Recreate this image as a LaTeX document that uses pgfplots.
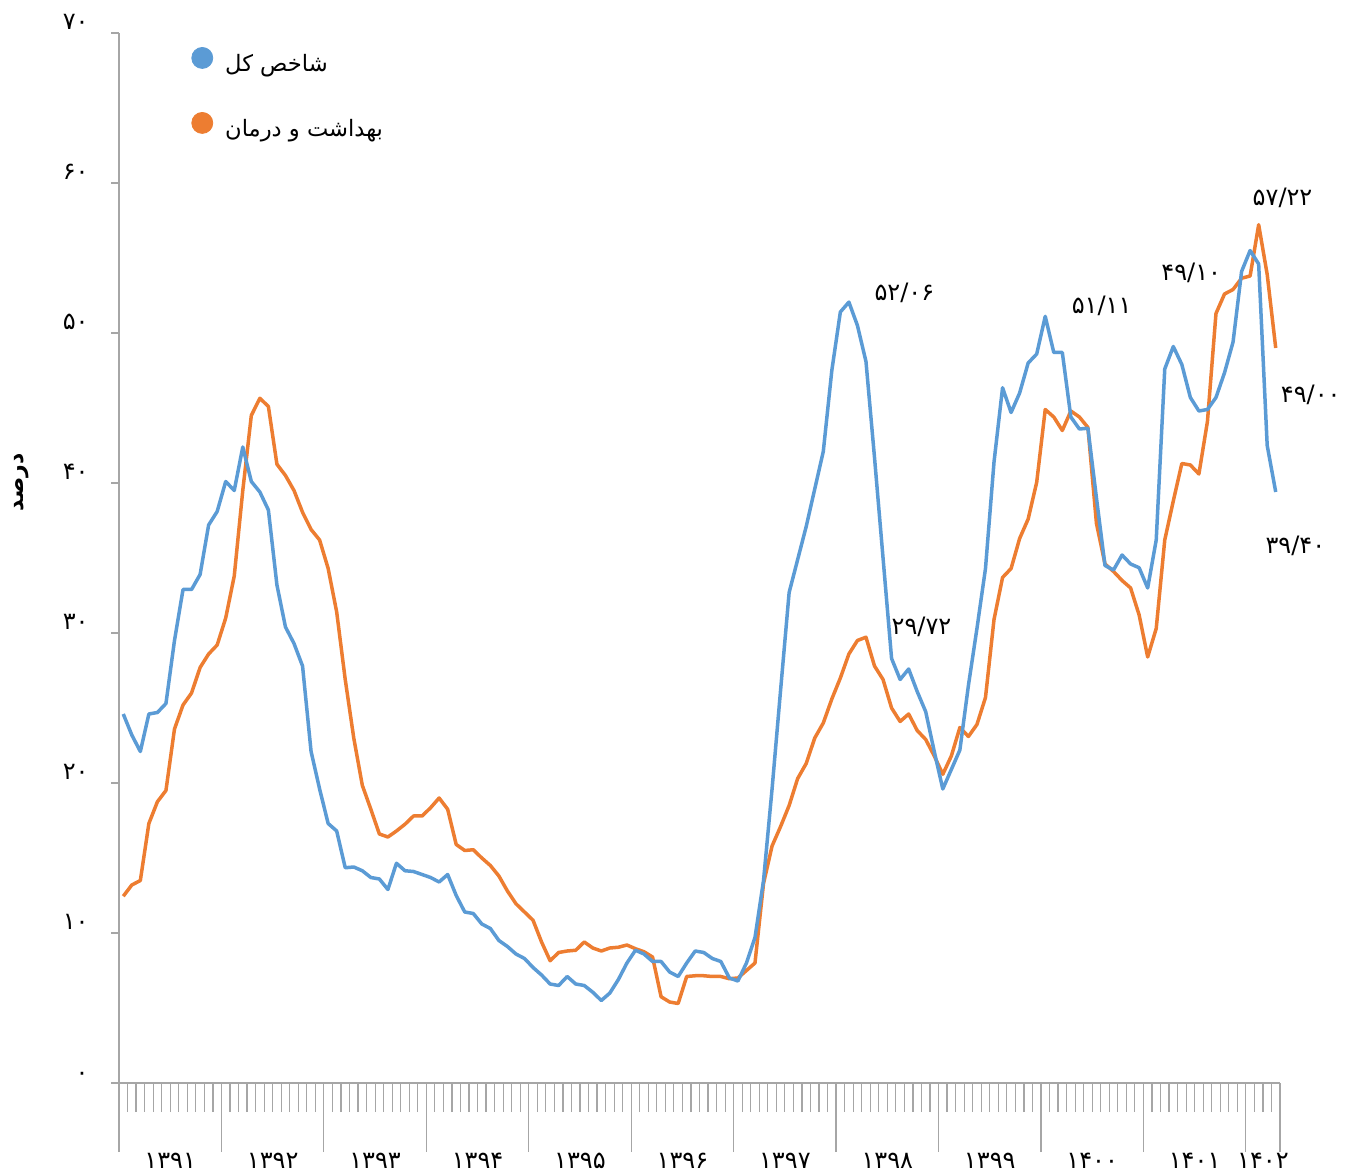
\documentclass[border=0pt]{standalone}
\usepackage{fontspec}
\usepackage{pgfplots}
\usepackage{pgfplotstable}
\pgfplotsset{compat=1.18}
\TeXXeTstate=1
\newfontfamily\arabicfont[Script=Arabic]{DejaVu Sans}
\definecolor{sblue}{HTML}{5B9BD5}
\definecolor{sorange}{HTML}{ED7D31}
\definecolor{axgray}{HTML}{A6A6A6}
\pgfplotstableread{
kol beh
24.6 12.45
23.2 13.2
22.1 13.5
24.6 17.3
24.7 18.75
25.3 19.5
29.5 23.6
32.9 25.2
32.9 26.0
33.9 27.7
37.2 28.6
38.1 29.2
40.1 31.0
39.5 33.8
42.4 39.5
40.1 44.5
39.4 45.65
38.2 45.1
33.2 41.25
30.4 40.5
29.3 39.5
27.8 38.05
22.1 36.9
19.6 36.2
17.3 34.3
16.8 31.4
14.35 26.9
14.4 23.0
14.15 19.85
13.7 18.25
13.6 16.6
12.9 16.4
14.65 16.8
14.15 17.25
14.1 17.8
13.9 17.8
13.7 18.35
13.4 19.0
13.9 18.25
12.5 15.9
11.4 15.5
11.3 15.55
10.6 15.0
10.3 14.5
9.5 13.8
9.1 12.8
8.6 11.95
8.3 11.4
7.7 10.85
7.2 9.4
6.6 8.15
6.5 8.7
7.1 8.8
6.6 8.85
6.5 9.4
6.05 9.0
5.5 8.8
6.0 9.0
6.9 9.05
8.0 9.2
8.85 8.95
8.6 8.75
8.1 8.4
8.1 5.75
7.4 5.4
7.1 5.3
8.0 7.1
8.8 7.15
8.7 7.15
8.3 7.1
8.1 7.1
7.0 6.95
6.8 7.0
8.0 7.5
9.7 8.0
13.5 13.3
19.6 15.8
26.2 17.1
32.7 18.5
34.9 20.3
37.1 21.3
39.6 23.0
42.1 24.0
47.5 25.6
51.4 27.0
52.06 28.6
50.5 29.5
48.1 29.72
41.7 27.8
35.0 26.9
28.3 25.0
26.9 24.1
27.6 24.6
26.1 23.5
24.75 22.9
22.1 21.8
19.6 20.58
20.9 21.8
22.2 23.7
26.5 23.1
30.3 23.9
34.3 25.7
41.4 30.9
46.35 33.7
44.7 34.3
46.0 36.3
48.0 37.6
48.6 40.05
51.11 44.9
48.7 44.4
48.7 43.5
44.4 44.8
43.6 44.4
43.65 43.7
39.0 37.3
34.5 34.6
34.2 34.1
35.2 33.5
34.6 33.0
34.35 31.2
33.0 28.4
36.2 30.3
47.6 36.2
49.1 38.8
47.9 41.3
45.7 41.2
44.8 40.6
44.9 44.1
45.7 51.3
47.35 52.6
49.4 52.9
54.1 53.65
55.5 53.8
54.6 57.22
42.5 53.9
39.4 49.0
}\datatable
\newcommand\lblfont{\arabicfont\fontsize{12}{14}\selectfont}
\begin{document}
\begin{tikzpicture}
\useasboundingbox (0,0) rectangle (675.5pt,587pt);
\begin{axis}[
  at={(59.5pt,45.5pt)}, anchor=south west,
  scale only axis, width=580.5pt, height=525pt,
  xmin=0, xmax=136, ymin=0, ymax=70,
  clip=false,
  axis x line*=bottom, axis y line*=left,
  x axis line style={-}, y axis line style={-},
  axis line style={axgray, line width=0.8pt},
  tick align=outside,
  tick style={axgray, line width=0.6pt},
  major tick length=34.5pt, minor tick length=14.5pt,
  xtick={0,12,24,36,48,60,72,84,96,108,120,132,136},
  xticklabels={},
  minor xtick={0,1,...,136},
  extra x ticks={6,18,30,42,54,66,78,90,102,114,126,134},
  extra x tick labels={۱۳۹۱,۱۳۹۲,۱۳۹۳,۱۳۹۴,۱۳۹۵,۱۳۹۶,۱۳۹۷,۱۳۹۸,۱۳۹۹,۱۴۰۰,۱۴۰۱,۱۴۰۲},
  extra x tick style={major tick length=0pt, tick style={draw=none},
     xticklabel style={anchor=base, yshift=-42.5pt, inner sep=0pt}},
  ytick=\empty,
  extra y ticks={0,10,20,30,40,50,60,70},
  extra y tick labels={۰,۱۰,۲۰,۳۰,۴۰,۵۰,۶۰,۷۰},
  extra y tick style={major tick length=4pt,
     yticklabel style={anchor=base east, inner sep=0pt, xshift=-11pt, yshift=1.5pt}},
  ticklabel style={font=\lblfont, text=black},
  ylabel={\arabicfont\bfseries\fontsize{11}{13}\selectfont\beginR درصد\endR},
  ylabel style={at={(axis description cs:-0.084,0.572)}, anchor=center},
  legend style={at={(axis description cs:0.062,0.987)}, anchor=north west,
     draw=none, fill=none, inner sep=0pt, row sep=17pt,
     font=\arabicfont\fontsize{11.3}{13}\selectfont,
     /tikz/every odd column/.append style={column sep=4pt}},
  legend cell align=left,
  legend image code/.code={\fill[#1] (0pt,3pt) circle (5.25pt);},
]
\addplot[sorange, line width=1.75pt, line join=round, forget plot] table[x expr=\coordindex+0.5, y=beh] {\datatable};
\addplot[sblue, line width=1.75pt, line join=round, forget plot] table[x expr=\coordindex+0.5, y=kol] {\datatable};
\addlegendimage{sblue}
\addlegendentry{\beginR شاخص کل\endR}
\addlegendimage{sorange}
\addlegendentry{\beginR بهداشت و درمان\endR}
\node[font=\lblfont] at (axis cs:92.0,52.7) {۵۲/۰۶};
\node[font=\lblfont] at (axis cs:94.0,30.4) {۲۹/۷۲};
\node[font=\lblfont] at (axis cs:115.1,51.8) {۵۱/۱۱};
\node[font=\lblfont] at (axis cs:125.6,54.0) {۴۹/۱۰};
\node[font=\lblfont] at (axis cs:136.3,59.0) {۵۷/۲۲};
\node[font=\lblfont] at (axis cs:139.6,45.9) {۴۹/۰۰};
\node[font=\lblfont] at (axis cs:137.8,35.8) {۳۹/۴۰};
\end{axis}
\end{tikzpicture}
\end{document}
